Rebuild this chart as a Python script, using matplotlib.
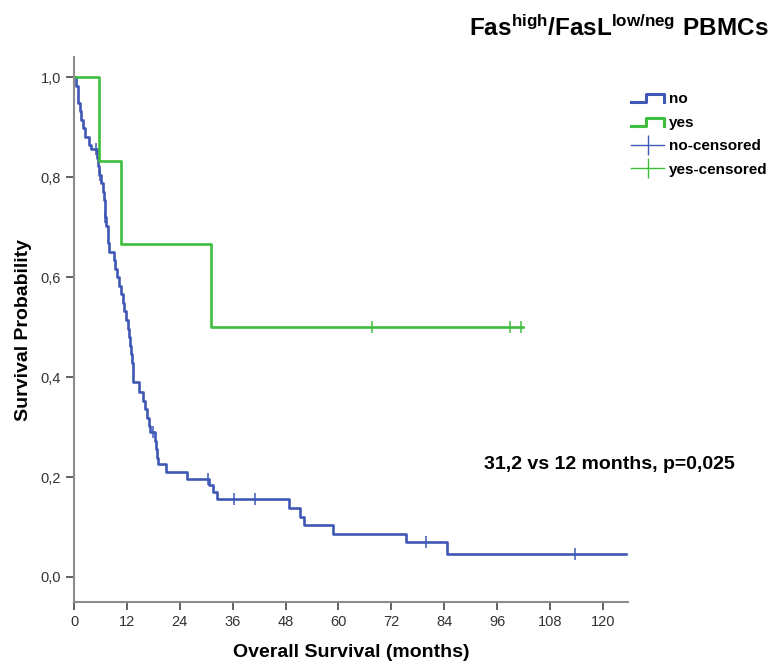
import matplotlib
matplotlib.use('Agg')
import matplotlib.pyplot as plt
import numpy as np
from matplotlib.legend_handler import HandlerBase
from matplotlib.lines import Line2D
from matplotlib.ticker import FuncFormatter

plt.rcParams['font.family'] = ['Liberation Sans', 'DejaVu Sans']
plt.rcParams['mathtext.fontset'] = 'custom'
plt.rcParams['mathtext.rm'] = 'Liberation Sans'
plt.rcParams['mathtext.bf'] = 'Liberation Sans:bold'

# step curves (time in months, survival after the drop)
no_times = [0, 0.5, 0.8, 1.0, 1.3, 1.6, 2.0, 2.6, 3.3, 3.8, 5.3, 5.5, 5.7, 6.2, 6.5,
            6.8, 7.0, 7.3, 7.6, 7.8, 8.0, 9.0, 9.4, 9.8, 10.2, 10.6, 11.0, 11.4, 11.8,
            12.2, 12.5, 12.8, 13.0, 13.2, 13.3, 13.4, 14.7, 15.7, 16.1, 16.6, 17.0,
            17.2, 18.3, 18.6, 18.9, 19.1, 20.8, 25.7, 30.7, 31.5, 32.4, 48.8, 51.2,
            52.2, 58.7, 75.3, 84.7]
no_surv = [1.0, 0.983, 0.966, 0.949, 0.932, 0.915, 0.898, 0.881, 0.864, 0.856, 0.839,
           0.822, 0.805, 0.788, 0.771, 0.754, 0.720, 0.703, 0.686, 0.668, 0.651, 0.634,
           0.617, 0.600, 0.583, 0.566, 0.549, 0.532, 0.514, 0.497, 0.480, 0.463, 0.446,
           0.428, 0.411, 0.390, 0.370, 0.353, 0.336, 0.319, 0.302, 0.290, 0.273, 0.256,
           0.239, 0.227, 0.210, 0.197, 0.184, 0.170, 0.155, 0.138, 0.120, 0.103, 0.086,
           0.069, 0.046]
no_end = 125.2
no_cens_t = [5.0, 5.9, 7.1, 18.0, 30.4, 36.3, 41.1, 79.8, 113.6]
no_cens_s = [0.856, 0.805, 0.720, 0.290, 0.197, 0.155, 0.155, 0.069, 0.046]

yes_times = [0, 5.7, 10.7, 31.1]
yes_surv = [1.0, 0.833, 0.667, 0.5]
yes_end = 101.8
yes_cens_t = [67.6, 98.9, 101.4]
yes_cens_s = [0.5, 0.5, 0.5]

blue = '#3F57B5'
green = '#3DBE3D'

fig = plt.figure(figsize=(7.81, 6.66), dpi=100)
ax = fig.add_axes([0.0948, 0.0961, 0.7093, 0.8183])

ax.step(no_times + [no_end], no_surv + [no_surv[-1]], where='post', color=blue, lw=1.9)
ax.step(yes_times + [yes_end], yes_surv + [yes_surv[-1]], where='post', color=green, lw=1.9)
ax.plot(no_cens_t, no_cens_s, ls='none', marker='|', ms=8, mew=1.1, color=blue)
ax.plot(yes_cens_t, yes_cens_s, ls='none', marker='|', ms=8, mew=1.1, color=green)

ax.set_xlim(0, 125.7)
ax.set_ylim(-0.05, 1.04)
ax.set_xticks(np.arange(0, 121, 12))
ax.set_yticks(np.arange(0, 1.01, 0.2))
ax.yaxis.set_major_formatter(FuncFormatter(lambda v, p: f'{v:.1f}'.replace('.', ',')))
for s in ['top', 'right']:
    ax.spines[s].set_visible(False)
for s in ['left', 'bottom']:
    ax.spines[s].set_color('#8c8c8c')
    ax.spines[s].set_linewidth(1.5)
ax.tick_params(direction='out', length=6, width=1.3, color='#555555',
               labelsize=10.5, labelcolor='#333333')
for lab in ax.get_xticklabels() + ax.get_yticklabels():
    lab.set_family(['Liberation Sans Narrow', 'Liberation Sans'])

ax.set_ylabel('Survival Probability', fontsize=14, fontweight='bold', labelpad=6)
ax.set_xlabel('Overall Survival (months)', fontsize=14, fontweight='bold', labelpad=11)

fig.text(0.984, 0.958, r'$\mathbf{Fas^{high}/FasL^{low/neg}\ PBMCs}$',
         ha='right', va='center', fontsize=17.5)

ax.text(0.74, 0.253, '31,2 vs 12 months, p=0,025', transform=ax.transAxes,
        fontsize=14, fontweight='bold', va='center')


class StepHandler(HandlerBase):
    def create_artists(self, legend, orig, xd, yd, w, h, fontsize, trans):
        xs = [xd, xd + w * 0.45, xd + w * 0.45, xd + w, xd + w]
        ys = [yd + h * 0.1, yd + h * 0.1, yd + h * 0.85, yd + h * 0.85, yd + h * 0.1]
        ln = Line2D(xs, ys, color=orig.get_color(), lw=2.2, transform=trans)
        return [ln]


h_no = Line2D([], [], color=blue)
h_yes = Line2D([], [], color=green)
h_nc = Line2D([], [], color=blue, lw=1, marker='|', ms=14, mew=1)
h_yc = Line2D([], [], color=green, lw=1, marker='|', ms=14, mew=1)
leg = fig.legend([h_no, h_yes, h_nc, h_yc], ['no', 'yes', 'no-censored', 'yes-censored'],
                 handler_map={h_no: StepHandler(), h_yes: StepHandler()},
                 loc='upper left', bbox_to_anchor=(0.79, 0.882), frameon=False,
                 prop={'weight': 'bold', 'size': 11}, handlelength=2.2,
                 handletextpad=0.3, labelspacing=0.62)

fig.savefig('out.png', dpi=100)
